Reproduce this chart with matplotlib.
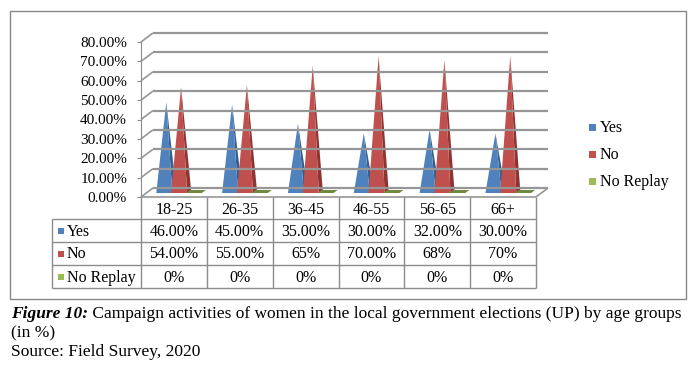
import matplotlib.pyplot as plt
from matplotlib.patches import Polygon, Rectangle

age_groups = ['18-25', '26-35', '36-45', '46-55', '56-65', '66+']
series = ['Yes', 'No', 'No Replay']
yes_vals = [46, 45, 35, 30, 32, 30]
no_vals = [54, 55, 65, 70, 68, 70]
noreply_vals = [0, 0, 0, 0, 0, 0]
yes_labels = ['46.00%', '45.00%', '35.00%', '30.00%', '32.00%', '30.00%']
no_labels = ['54.00%', '55.00%', '65%', '70.00%', '68%', '70%']
noreply_labels = ['0%', '0%', '0%', '0%', '0%', '0%']
yticks = [0, 10, 20, 30, 40, 50, 60, 70, 80]

colors = ['#4F81BD', '#C0504D', '#9BBB59']
dark = ['#375E8E', '#8E3532', '#71893F']
grid_c = '#969696'
line_c = '#8C8C8C'
font = 'Liberation Serif'

W, H = 697, 365
fig = plt.figure(figsize=(W / 100, H / 100), dpi=100)

# overlay in top-down pixel coords
ov = fig.add_axes([0, 0, 1, 1])
ov.set_xlim(0, W)
ov.set_ylim(H, 0)
ov.axis('off')

# front plane of the 3d box
fx0, fx1, fy0, fy1 = 141, 536, 197, 42
ax = fig.add_axes([fx0 / W, (H - fy0) / H, (fx1 - fx0) / W, (fy0 - fy1) / H])
ax.set_xlim(0, len(age_groups))
ax.set_ylim(0, 80)
ax.patch.set_visible(False)
for s in ['top', 'right', 'bottom']:
    ax.spines[s].set_visible(False)
ax.spines['left'].set_color(line_c)
ax.set_xticks([])
ax.set_yticks(yticks)
ax.set_yticklabels(['%.2f%%' % v for v in yticks], fontfamily=font, fontsize=11)
ax.tick_params(axis='y', length=3, color=line_c, pad=7)

planes = {'front': (0, 0), 'back': (12, -9), 'pf': (5.5, -4), 'pb': (9.5, -7), 'pm': (7.5, -5.5)}


def pt(x, v, plane):
    X, Y = ax.transData.transform((x, v))
    dx, dy = planes[plane]
    return X + dx, H - Y + dy


def seg(a, b, **kw):
    ov.plot([a[0], b[0]], [a[1], b[1]], solid_capstyle='butt', **kw)


n = len(age_groups)
for v in yticks:
    seg(pt(0, v, 'front'), pt(0, v, 'back'), color=grid_c, lw=1.2)
    seg(pt(0, v, 'back'), pt(n, v, 'back'), color=grid_c, lw=1.6)
seg(pt(0, 0, 'front'), pt(n, 0, 'front'), color=grid_c, lw=1.2)
seg(pt(n, 0, 'front'), pt(n, 0, 'back'), color=grid_c, lw=1.2)

# pyramids
offsets = [-0.23, -0.005, 0.22]
pw = 0.243
for s, vals in enumerate([yes_vals, no_vals, noreply_vals]):
    for i, v in enumerate(vals):
        c = i + 0.5 + offsets[s]
        xl, xr = c - pw / 2, c + pw / 2
        if v > 0:
            apex = pt(c, v, 'pm')
            ov.add_patch(Polygon([pt(xr, 0, 'pf'), pt(xr, 0, 'pb'), apex],
                                 closed=True, fc=dark[s], ec='none'))
            ov.add_patch(Polygon([pt(xl, 0, 'pf'), pt(xr, 0, 'pf'), apex],
                                 closed=True, fc=colors[s], ec='none'))
        else:
            ov.add_patch(Polygon([pt(xl, 0, 'pf'), pt(xr, 0, 'pf'),
                                  pt(xr, 0, 'pb'), pt(xl, 0, 'pb')],
                                 closed=True, fc=dark[s], ec='none'))

# data table
row_y = [197, 219, 242, 265, 288]
tx0 = 52
tx1 = pt(n, 0, 'front')[0]
for y in row_y[1:]:
    seg((tx0, y), (tx1, y), color=line_c, lw=1)
for i in range(n + 1):
    x = pt(i, 0, 'front')[0]
    seg((x, row_y[0]), (x, row_y[-1]), color=line_c, lw=1)
seg((tx0, row_y[1]), (tx0, row_y[-1]), color=line_c, lw=1)

fs = 11.5
for i, g in enumerate(age_groups):
    x = pt(i + 0.5, 0, 'front')[0]
    ov.text(x, (row_y[0] + row_y[1]) / 2 + 1.5, g, ha='center', va='center',
            fontfamily=font, fontsize=fs)
for r, labels in enumerate([yes_labels, no_labels, noreply_labels]):
    yc = (row_y[r + 1] + row_y[r + 2]) / 2 + 1
    for i, lab in enumerate(labels):
        x = pt(i + 0.5, 0, 'front')[0]
        ov.text(x, yc, lab, ha='center', va='center', fontfamily=font, fontsize=fs)
    ov.add_patch(Rectangle((58, yc - 4), 6, 6, fc=colors[r], ec='none'))
    ov.text(67, yc, series[r], ha='left', va='center', fontfamily=font, fontsize=fs)

# legend
for r, name in enumerate(series):
    yc = 128 + 27 * r
    ov.add_patch(Rectangle((589, yc - 4), 7, 7, fc=colors[r], ec='none'))
    ov.text(600, yc, name, ha='left', va='center', fontfamily=font, fontsize=fs)

# chart frame
ov.add_patch(Rectangle((10, 11), 676, 288, fill=False, ec='#888888', lw=1))

# caption
cfs = 12.5
t1 = ov.text(11, 318, 'Figure 10:', ha='left', va='baseline', fontfamily=font,
             fontsize=cfs, fontweight='bold', fontstyle='italic')
ov.annotate(' Campaign activities of women in the local government elections (UP) by age groups',
            xy=(1, 0), xycoords=t1, ha='left', va='bottom', fontfamily=font, fontsize=cfs)
ov.text(11, 337, '(in %)', ha='left', va='baseline', fontfamily=font, fontsize=cfs)
ov.text(11, 356, 'Source: Field Survey, 2020', ha='left', va='baseline', fontfamily=font, fontsize=cfs)

fig.savefig('out.png', dpi=100)
